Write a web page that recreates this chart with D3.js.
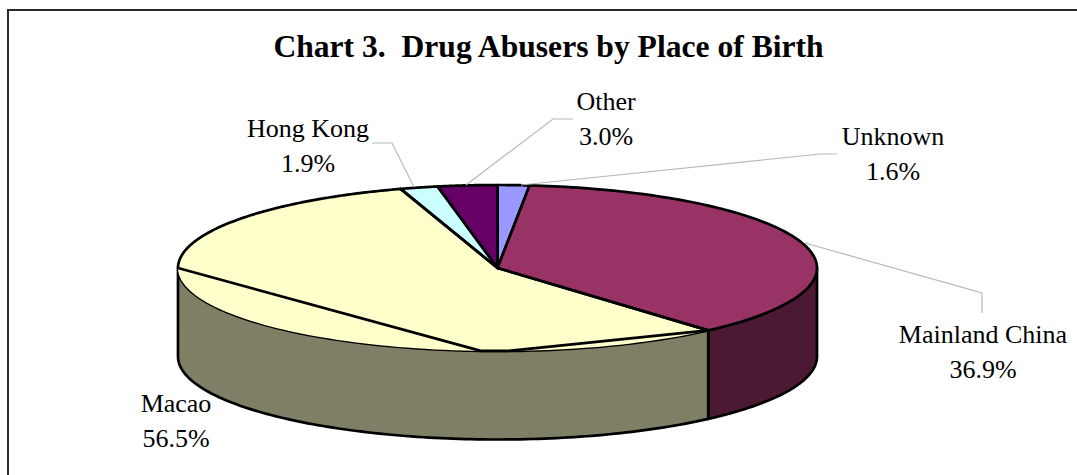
<!DOCTYPE html>
<html><head><meta charset="utf-8">
<script src="https://cdn.jsdelivr.net/npm/d3@7/dist/d3.min.js"></script>
<style>html,body{margin:0;padding:0;background:#fff;overflow:hidden}svg{display:block}
text{font-family:"Liberation Serif","Times New Roman",serif;fill:#000}</style></head>
<body><svg id="c" width="1077" height="475"></svg>
<script>
const titleText = "Chart 3.  Drug Abusers by Place of Birth";
const categories = ["Unknown","Mainland China","Macao","Hong Kong","Other"];
const shares = [1.6,36.9,56.5,1.9,3.0];
const labels = ["1.6%","36.9%","56.5%","1.9%","3.0%"];
const colors = ["#9999FF","#993366","#FFFFCC","#CCFFFF","#660066"];
const wallColors = ["#4C1933","#4C1933","#7F7F66","#66807F","#330033"];
// extra chord vertices seen on the Macao face, as degrees clockwise from 12 o'clock
const macaoChordDeg = [178,183,270];
const labelX = [893,983,176,308,606];
const labelY = [145,343,412,137,110];
const leaders = [
  [[521,185],[820,154],[837,154]],
  [[805,243],[982,293],[982,313]],
  null,
  [[414,187],[392,143],[372,143]],
  [[466,185],[553,119],[573,119]]
];

const svg = d3.select("#c");
svg.append("path").attr("d","M1077,10H8V475").attr("fill","none").attr("stroke","#2a2a2a").attr("stroke-width",2);
svg.append("text").attr("x",548.5).attr("y",57).attr("text-anchor","middle")
  .attr("font-size",31.6).attr("font-weight","bold")
  .style("white-space","pre").text(titleText);

const cx=497.5, cy=268, rx=319.5, ry=83, depth=88.5, sw=2.7;
const sx=d3.scaleLinear().domain([-1,1]).range([cx-rx,cx+rx]);
const sy=d3.scaleLinear().domain([-1,1]).range([cy-ry,cy+ry]);
const pt=(a,dz=0)=>[sx(Math.sin(a)),sy(-Math.cos(a))+dz];
const arcs=d3.pie().sort(null).value(d=>d)(shares);
const path=(d)=>"M"+d.map(p=>p.join(",")).join("L");
const steps=(a0,a1)=>d3.range(0,121).map(i=>a0+(a1-a0)*i/120);
const PI=Math.PI;

// walls: visible only for the front half
const wallG=svg.append("g");
arcs.forEach((d,i)=>{
  const a0=Math.max(d.startAngle,PI/2), a1=Math.min(d.endAngle,3*PI/2);
  if(a1<=a0) return;
  const top=steps(a0,a1).map(a=>pt(a));
  const bot=steps(a1,a0).map(a=>pt(a,depth));
  wallG.append("path").attr("d",path(top.concat(bot))+"Z")
    .attr("fill",wallColors[i]).attr("stroke","#000").attr("stroke-width",sw).attr("stroke-linejoin","round");
});
// top faces: Macao first, so the thin sliver below its inner line keeps no heavy rim
const faceG=svg.append("g");
const m=arcs[2];
faceG.append("path").attr("d",path([[cx,cy]].concat(steps(m.startAngle,m.endAngle).map(a=>pt(a))))+"Z")
  .attr("fill",colors[2]).attr("stroke","none");
arcs.forEach((d,i)=>{
  if(i===2) return;
  const rim=steps(d.startAngle,d.endAngle).map(a=>pt(a));
  faceG.append("path").attr("d",path([[cx,cy]].concat(rim))+"Z")
    .attr("fill",colors[i]).attr("stroke","#000").attr("stroke-width",sw).attr("stroke-linejoin","round");
});
// Macao outline: centre, inner chord, then back along the upper rim to centre
const chord=[[cx,cy],pt(m.startAngle)].concat(macaoChordDeg.map(a=>pt(a*PI/180)));
const upper=steps(macaoChordDeg[2]*PI/180,m.endAngle).map(a=>pt(a));
faceG.append("path").attr("d",path(chord.concat(upper,[[cx,cy]])))
  .attr("fill","none").attr("stroke","#000").attr("stroke-width",sw).attr("stroke-linejoin","round");

// leaders
leaders.forEach(l=>{ if(l) svg.append("path").attr("d",path(l)).attr("fill","none").attr("stroke","#b8b8b8").attr("stroke-width",1.2); });
// labels
categories.forEach((c,i)=>{
  const t=svg.append("text").attr("text-anchor","middle").attr("font-size",26);
  t.append("tspan").attr("x",labelX[i]).attr("y",labelY[i]).text(c);
  t.append("tspan").attr("x",labelX[i]).attr("y",labelY[i]+34.5).text(labels[i]);
});
</script></body></html>
